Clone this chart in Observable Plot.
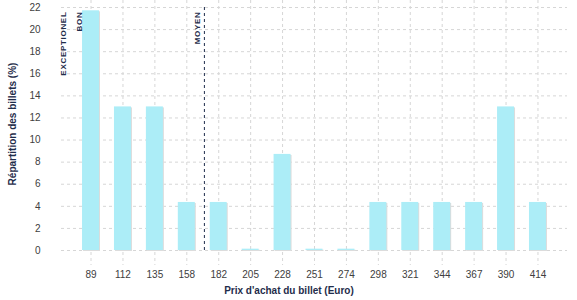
<!DOCTYPE html>
<html>
<head>
<meta charset="utf-8">
<script src="https://cdn.jsdelivr.net/npm/d3@7"></script>
<script src="https://cdn.jsdelivr.net/npm/@observablehq/plot@0.6"></script>
<style>
  body { margin: 0; background: #fff; }
  #chart svg { display: block; }
</style>
</head>
<body>
<div id="chart"></div>
<script>
const prices = ["89","112","135","158","182","205","228","251","274","298","321","344","367","390","414"];
const shares = [21.7, 13.0, 13.0, 4.35, 4.35, 0.12, 8.7, 0.12, 0.12, 4.35, 4.35, 4.35, 4.35, 13.0, 4.35];
const yTicks = [0, 2, 4, 6, 8, 10, 12, 14, 16, 18, 20, 22];
const thresholdLabels = ["EXCEPTIONEL", "BON", "MOYEN"];
const thresholdAnchors = ["89", "89", "158"];
const thresholdShift = [-27.5, -11.5, 10.5];
const moyenAnchor = ["158"];
const xTitle = "Prix d'achat du billet (Euro)";
const yTitle = "Répartition des billets (%)";

const data = prices.map((p, i) => ({price: p, share: shares[i]}));
const thr = thresholdLabels.map((t, i) => ({label: t, x: thresholdAnchors[i], dx: thresholdShift[i]}));

const font = "Liberation Sans, Arial, sans-serif";
const navy = "#1f2d4b";

const chart = Plot.plot({
  width: 577,
  height: 300,
  marginTop: 7,
  marginBottom: 50,
  marginLeft: 61,
  marginRight: 10,
  style: {fontFamily: font, fontSize: "10px", color: "#3a3a3a", background: "#fff"},
  x: {type: "band", domain: prices, paddingInner: 0.468, paddingOuter: 0.659, round: false, label: null},
  y: {domain: [0, 22], ticks: yTicks, label: null},
  marks: [
    Plot.gridY(yTicks, {stroke: "#d6d6d6", strokeOpacity: 1, strokeDasharray: "3,3"}),
    Plot.ruleX(prices, {x: d => d, stroke: "#d6d6d6", strokeDasharray: "3,3", insetTop: -7, insetBottom: -15}),
    Plot.axisY({ticks: yTicks, tickSize: 0, tickPadding: 21, label: null, fill: "#404040"}),
    Plot.axisX({tickSize: 0, tickPadding: 20, label: null, fill: "#404040"}),
    Plot.barY(data, {x: "price", y: "share", fill: "#dcdcdc", dx: 1, dy: 1}),
    Plot.barY(data, {x: "price", y: "share", fill: "#acedf7"}),
    Plot.ruleX(moyenAnchor, {x: d => d, dx: 17.6, stroke: navy, strokeWidth: 1, strokeDasharray: "3,3"}),
    ...thr.map(d => Plot.text([d], {
      x: "x", text: "label", frameAnchor: "top", dx: d.dx, dy: 4,
      rotate: -90, textAnchor: "end", lineAnchor: "middle", fill: navy, fontSize: 8, fontWeight: "bold"
    })),
    Plot.text([yTitle], {text: d => d, frameAnchor: "left", rotate: -90, dx: -49, dy: -5,
      textAnchor: "middle", lineAnchor: "middle",
      fill: navy, fontWeight: "bold", fontSize: 10}),
    Plot.text([xTitle], {text: d => d, frameAnchor: "bottom", dx: -25.5, dy: 40,
      textAnchor: "middle", lineAnchor: "middle",
      fill: navy, fontWeight: "bold", fontSize: 10})
  ]
});
d3.select(chart).selectAll("text")
  .filter(function() { return thresholdLabels.includes(this.textContent); })
  .style("letter-spacing", "0.7px");
document.getElementById("chart").append(chart);
</script>
</body>
</html>
